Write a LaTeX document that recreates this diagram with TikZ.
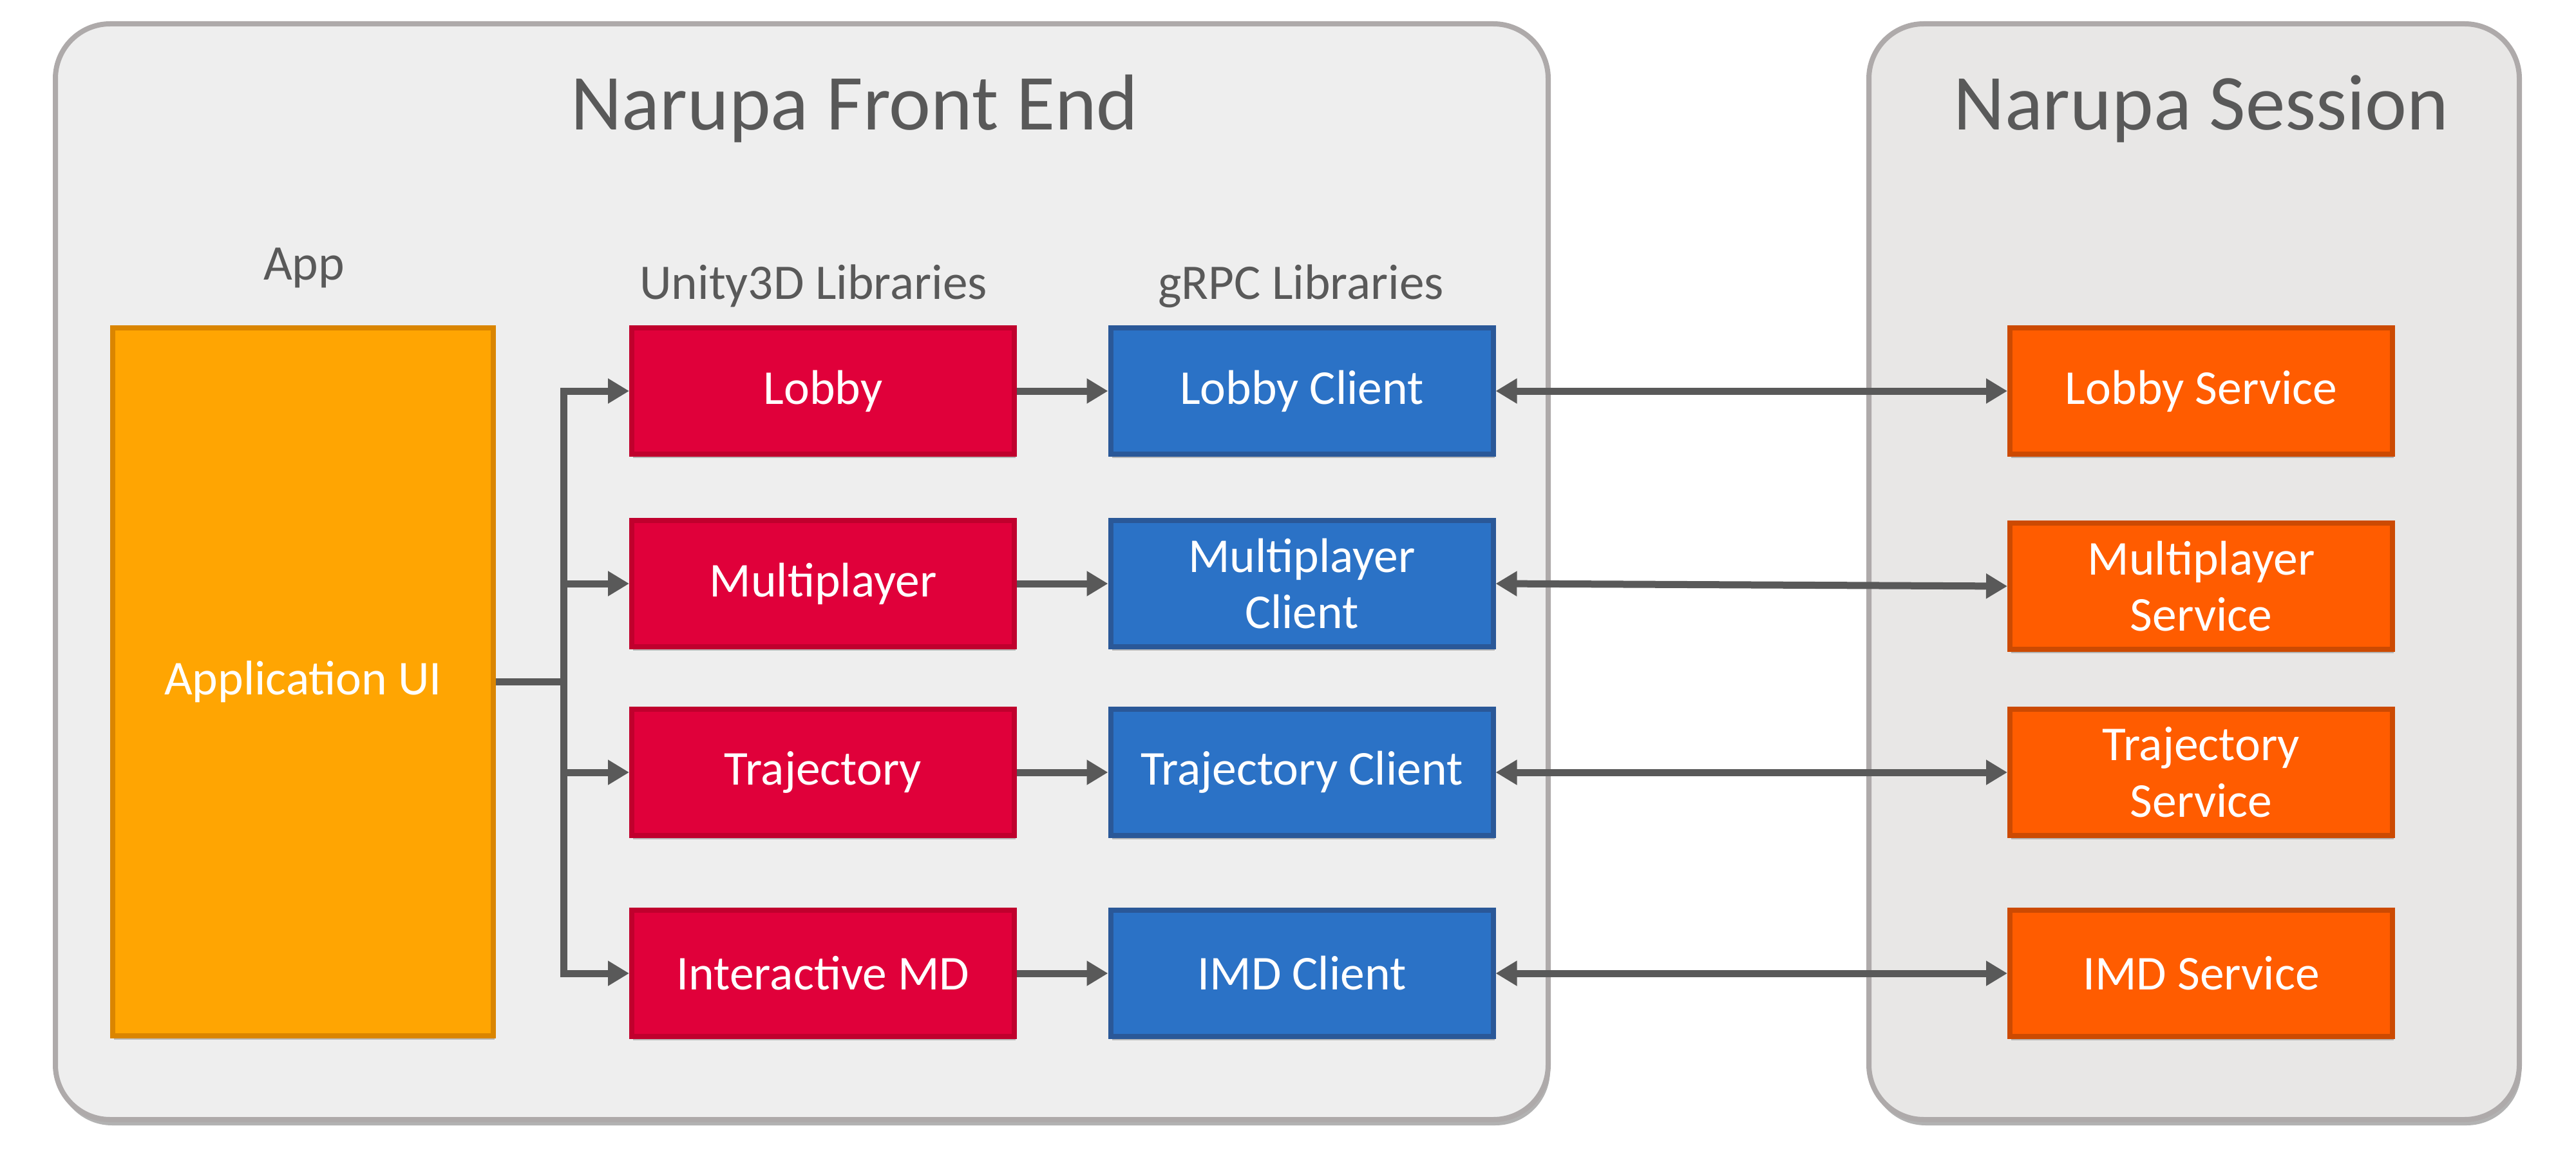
\documentclass[tikz,border=0pt]{standalone}
\usepackage{fontspec}
\setmainfont{Carlito}
\usetikzlibrary{arrows.meta,shadows}

\definecolor{panelfill}{HTML}{EEEEEE}
\definecolor{sessionfill}{HTML}{E8E7E6}
\definecolor{panelline}{HTML}{AEAAAA}
\definecolor{textgray}{HTML}{595959}
\definecolor{appfill}{HTML}{FFA502}
\definecolor{appline}{HTML}{DA8500}
\definecolor{libfill}{HTML}{E0003A}
\definecolor{libline}{HTML}{C0002D}
\definecolor{clientfill}{HTML}{2B72C6}
\definecolor{clientline}{HTML}{2A5898}
\definecolor{servicefill}{HTML}{FF5C00}
\definecolor{serviceline}{HTML}{CC4A02}

\tikzset{
  panel/.style={draw=panelline, line width=0.08cm, rounded corners=0.85cm,
    drop shadow={shadow xshift=0.03cm, shadow yshift=-0.09cm, opacity=0.3, fill=black}},
  block/.style={line width=0.08cm, text=white, align=center,
    minimum width=5.94cm, minimum height=1.96cm,
    font=\fontsize{21.5}{25}\selectfont,
    drop shadow={shadow xshift=0.02cm, shadow yshift=-0.06cm, opacity=0.22, fill=black}},
  appbox/.style={block, fill=appfill, draw=appline},
  libbox/.style={block, fill=libfill, draw=libline},
  clientbox/.style={block, fill=clientfill, draw=clientline},
  servicebox/.style={block, fill=servicefill, draw=serviceline},
  heading/.style={text=textgray, font=\fontsize{22}{26}\selectfont},
  title/.style={text=textgray, font=\fontsize{35}{42}\selectfont},
  tip/.tip={Triangle[length=0.33cm, width=0.37cm]},
  link/.style={draw=textgray, line width=0.11cm, -tip},
  duplex/.style={draw=textgray, line width=0.11cm, tip-tip},
}

\begin{document}
\begin{tikzpicture}
  \path[use as bounding box] (0,0) rectangle (40,-17.93);

  % Containers
  \node[panel, fill=panelfill, minimum width=23.18cm, minimum height=17.01cm] (frontend) at (12.45,-8.875) {};
  \node[panel, fill=sessionfill, minimum width=10.10cm, minimum height=17.01cm] (session) at (34.07,-8.875) {};
  \node[title] (fronttitle) at (13.27,-1.69) {Narupa Front End};
  \node[title] (sessiontitle) at (34.18,-1.69) {Narupa Session};

  % Column headings
  \node[heading] (apphead) at (4.72,-4.16) {App};
  \node[heading] (unityhead) at (12.63,-4.44) {Unity3D Libraries};
  \node[heading] (grpchead) at (20.20,-4.44) {gRPC Libraries};

  % App
  \node[appbox, minimum width=5.91cm, minimum height=10.99cm] (app) at (4.705,-10.585) {Application UI};

  % Unity3D libraries
  \node[libbox] (lobby) at (12.78,-6.07) {Lobby};
  \node[libbox] (multi) at (12.78,-9.06) {Multiplayer};
  \node[libbox] (traj) at (12.78,-11.99) {Trajectory};
  \node[libbox] (imd) at (12.78,-15.11) {Interactive MD};

  % gRPC clients
  \node[clientbox] (lobbyclient) at (20.215,-6.07) {Lobby Client};
  \node[clientbox] (multiclient) at (20.215,-9.06) {Multiplayer\\Client};
  \node[clientbox] (trajclient) at (20.215,-11.99) {Trajectory Client};
  \node[clientbox] (imdclient) at (20.215,-15.11) {IMD Client};

  % Services
  \node[servicebox] (lobbyservice) at (34.18,-6.07) {Lobby Service};
  \node[servicebox] (multiservice) at (34.18,-9.10) {Multiplayer\\Service};
  \node[servicebox] (trajservice) at (34.18,-11.99) {Trajectory\\Service};
  \node[servicebox] (imdservice) at (34.18,-15.11) {IMD Service};

  % App to libraries
  \coordinate (fork) at (8.75,-10.585);
  \draw[draw=textgray, line width=0.11cm] (app.east) -- (fork);
  \draw[draw=textgray, line width=0.11cm, line cap=rect] (fork |- lobby.west) -- (fork |- imd.west);
  \foreach \lib in {lobby, multi, traj, imd}
    \draw[link] (fork |- \lib.west) -- (\lib.west);

  % Libraries to clients
  \draw[link] (lobby) -- (lobbyclient);
  \draw[link] (multi) -- (multiclient);
  \draw[link] (traj) -- (trajclient);
  \draw[link] (imd) -- (imdclient);

  % Clients to services
  \draw[duplex] (lobbyclient.east) -- (lobbyservice.west);
  \draw[duplex] (multiclient.east) -- (multiservice.west);
  \draw[duplex] (trajclient.east) -- (trajservice.west);
  \draw[duplex] (imdclient.east) -- (imdservice.west);
\end{tikzpicture}
\end{document}
